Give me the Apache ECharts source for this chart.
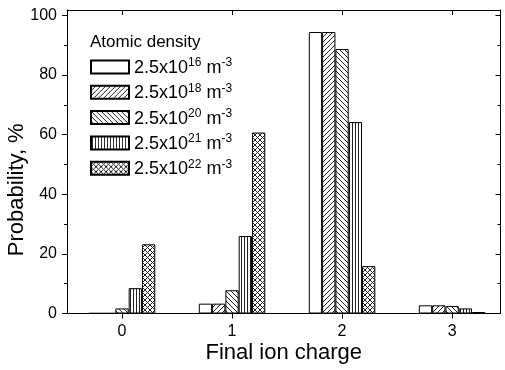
<!DOCTYPE html>
<html>
<head>
<meta charset="utf-8">
<script src="https://cdn.jsdelivr.net/npm/echarts@6/dist/echarts.min.js"></script>
<style>
  html, body { margin: 0; padding: 0; background: #fff; }
  #chart { width: 505px; height: 370px; }
</style>
</head>
<body>
<div id="chart"></div>
<script>
// final ion charge positions on the x axis
const charges = [0, 1, 2, 3];
// probability, % for each atomic density
const dens16 = [0.1, 3.3, 94.4, 2.75];
const dens18 = [0.1, 3.3, 94.4, 2.75];
const dens20 = [1.7, 7.8, 88.7, 2.5];
const dens21 = [8.5, 26.0, 64.2, 1.7];
const dens22 = [23.2, 60.7, 15.9, 0.5];
const seriesNames = ['2.5x10^16 m^-3', '2.5x10^18 m^-3', '2.5x10^20 m^-3', '2.5x10^21 m^-3', '2.5x10^22 m^-3'];
const yTicks = [0, 20, 40, 60, 80, 100];

// small tiles for the hatch fills
function makePattern(kind) {
  const n = kind === 'vert' ? 3 : 5;
  const c = document.createElement('canvas');
  c.width = n; c.height = n;
  const ctx = c.getContext('2d');
  ctx.fillStyle = '#fff';
  ctx.fillRect(0, 0, n, n);
  ctx.strokeStyle = '#222';
  ctx.lineWidth = 1;
  ctx.beginPath();
  if (kind === 'vert') {
    ctx.moveTo(1.5, 0); ctx.lineTo(1.5, n);
  }
  if (kind === 'fwd' || kind === 'cross') {
    ctx.moveTo(-1, n + 1); ctx.lineTo(n + 1, -1);
    ctx.moveTo(-1, 1); ctx.lineTo(1, -1);
    ctx.moveTo(n - 1, n + 1); ctx.lineTo(n + 1, n - 1);
  }
  if (kind === 'back' || kind === 'cross') {
    ctx.moveTo(-1, -1); ctx.lineTo(n + 1, n + 1);
    ctx.moveTo(n - 1, -1); ctx.lineTo(n + 1, 1);
    ctx.moveTo(-1, n - 1); ctx.lineTo(1, n + 1);
  }
  ctx.stroke();
  return { image: c, repeat: 'repeat' };
}

const fills = ['#fff', makePattern('fwd'), makePattern('back'), makePattern('vert'), makePattern('cross')];
const dataSets = [dens16, dens18, dens20, dens21, dens22];

const chart = echarts.init(document.getElementById('chart'));
const font = 'Liberation Sans, Arial, sans-serif';

const series = dataSets.map((arr, i) => ({
  name: seriesNames[i],
  type: 'bar',
  xAxisIndex: 0,
  yAxisIndex: 0,
  barWidth: 13.3,
  barGap: '0%',
  data: arr.map((v, k) => [charges[k], v]),
  itemStyle: { color: fills[i], borderColor: '#000', borderWidth: 1 },
  emphasis: { disabled: true }
}));

chart.setOption({
  animation: false,
  textStyle: { fontFamily: font },
  title: {
    text: 'Atomic density',
    left: 90, top: 34,
    padding: 0,
    textStyle: { fontFamily: font, fontSize: 17, fontWeight: 'normal', color: '#000' }
  },
  legend: {
    orient: 'vertical',
    left: 90, top: 57,
    padding: 0,
    icon: 'rect',
    itemWidth: 38, itemHeight: 13, itemGap: 5.3,
    selectedMode: false,
    data: seriesNames,
    formatter: name => {
      const m = name.match(/^(.*)\^(\d+) m\^(-\d)$/);
      return '{a|' + m[1] + '}{s|' + m[2] + '}{a| m}{s|' + m[3] + '}';
    },
    textStyle: {
      fontFamily: font,
      color: '#000',
      rich: {
        a: { fontFamily: font, fontSize: 18, lineHeight: 20, verticalAlign: 'bottom', color: '#000' },
        s: { fontFamily: font, fontSize: 12, lineHeight: 12, verticalAlign: 'top', color: '#000' }
      }
    }
  },
  grid: { left: 67, top: 10, width: 433.5, height: 303.5, outerBoundsMode: 'none' },
  xAxis: [{
    type: 'value',
    min: -0.5, max: 3.44,
    name: 'Final ion charge',
    nameLocation: 'middle',
    nameGap: 28,
    nameMoveOverlap: false,
    nameTextStyle: { fontFamily: font, fontSize: 22, color: '#000' },
    splitLine: { show: false },
    axisLine: { onZero: false, lineStyle: { color: '#000', width: 1 } },
    axisTick: { customValues: charges, inside: false, length: 5, lineStyle: { color: '#000' } },
    axisLabel: { customValues: charges, fontFamily: font, fontSize: 16, color: '#000', margin: 10 }
  }, {
    type: 'value',
    position: 'top',
    min: -0.5, max: 3.44,
    splitLine: { show: false },
    axisLine: { onZero: false, lineStyle: { color: '#000', width: 1 } },
    axisTick: { customValues: charges, inside: true, length: 5, lineStyle: { color: '#000' } },
    axisLabel: { show: false }
  }],
  yAxis: [{
    type: 'value',
    min: 0, max: 101.8,
    name: 'Probability, %',
    nameLocation: 'middle',
    nameGap: 39,
    nameMoveOverlap: false,
    nameTextStyle: { fontFamily: font, fontSize: 22, color: '#000', padding: [0, 56, 0, 0] },
    splitLine: { show: false },
    axisLine: { show: true, onZero: false, lineStyle: { color: '#000', width: 1 } },
    axisTick: { customValues: yTicks, inside: false, length: 5, lineStyle: { color: '#000' } },
    minorTick: { show: true, splitNumber: 2, length: 3, lineStyle: { color: '#000' } },
    axisLabel: { customValues: yTicks, fontFamily: font, fontSize: 16, color: '#000', margin: 10 }
  }, {
    type: 'value',
    position: 'right',
    min: 0, max: 101.8,
    splitLine: { show: false },
    axisLine: { show: true, onZero: false, lineStyle: { color: '#000', width: 1 } },
    axisTick: { customValues: yTicks, inside: true, length: 5, lineStyle: { color: '#000' } },
    minorTick: { show: true, splitNumber: 2, length: 3, lineStyle: { color: '#000' } },
    axisLabel: { show: false }
  }],
  series: series
});
</script>
</body>
</html>
